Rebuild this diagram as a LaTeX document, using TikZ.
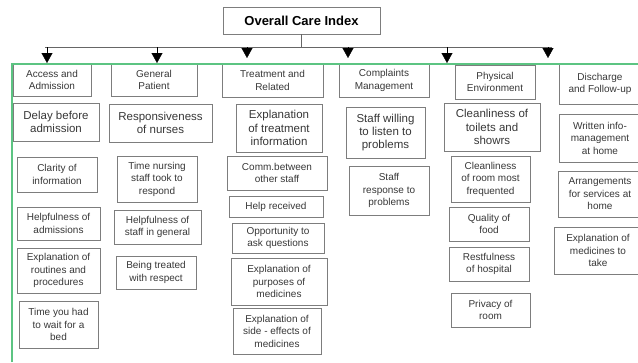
\documentclass[tikz,border=0pt]{standalone}
\usepackage{fontspec}
\setmainfont{Liberation Sans}
\usetikzlibrary{arrows.meta}
\definecolor{boxgray}{RGB}{125,125,125}
\definecolor{txtgray}{RGB}{55,55,55}
\definecolor{linegreen}{RGB}{92,196,130}
\begin{document}
\begin{tikzpicture}[x=1pt,y=-1pt,
		box/.style={draw=boxgray,text=txtgray,align=center,inner sep=0pt,font=\fontsize{10}{12.5}\selectfont},
		bigbox/.style={box,font=\fontsize{11.5}{13.3}\selectfont},
		sz/.style 2 args={minimum width=#1pt,minimum height=#2pt},
		tip/.style={-{Triangle[length=10pt,width=11pt]}}]
		\useasboundingbox (0,0) rectangle (638,362);
		\clip (0,0) rectangle (638,362);
		\node[draw=boxgray,sz={157}{27},font=\bfseries\fontsize{13}{15}\selectfont] (title) at (301.5,20.5) {Overall Care Index};
		\coordinate (bl) at (45,47);
		\coordinate (br) at (552,47);
		\draw[black!60] (title.south) -- (title.south |- bl);
		\draw[black!60] (bl) -- (br);
		\foreach \x/\y [count=\i] in {47/63,157/63,247/58,348/58,447/63,548/58} {
			\coordinate (a\i) at (\x,47);
			\coordinate (t\i) at (\x,\y);
			\draw[tip] (a\i) -- (t\i);
		}
		% column heads
		\node[box,sz={78}{32}] (acc) at (52,80) {Access and\\Admission};
		\node[box,sz={86}{32}] (gen) at (154,80) {General\\Patient};
		\node[box,sz={101}{33}] (trt) at (272.5,80.5) {Treatment and\\Related};
		\node[box,sz={90}{33}] (cmp) at (384,80.5) {Complaints\\Management};
		\node[box,sz={80}{34}] (phy) at (495,82) {Physical\\Environment};
		\node[box,sz={82}{40}] (dis) at (600,84) {Discharge\\and Follow-up};
		% access and admission
		\node[bigbox,sz={86}{38}] (delay) at (56,122) {Delay before\\admission};
		\node[box,sz={80}{35}] (clar) at (57,174.5) {Clarity of\\information};
		\node[box,sz={83}{33}] (helpa) at (58.5,223.5) {Helpfulness of\\admissions};
		\node[box,sz={83}{45}] (rout) at (58.5,270.5) {Explanation of\\routines and\\procedures};
		\node[box,sz={79}{47}] (wait) at (58.5,324.5) {Time you had\\to wait for a\\bed};
		% general patient
		\node[bigbox,sz={103}{38}] (resp) at (160.5,123) {Responsiveness\\of nurses};
		\node[box,sz={80}{46}] (tnurs) at (157,179) {Time nursing\\staff took to\\respond};
		\node[box,sz={87}{34}] (helps) at (157.5,227) {Helpfulness of\\staff in general};
		\node[box,sz={80}{33}] (resc) at (156,272.5) {Being treated\\with respect};
		% treatment and related
		\node[bigbox,sz={86}{48}] (expt) at (279,128) {Explanation\\of treatment\\information};
		\node[box,sz={100}{34}] (comm) at (277,173) {Comm.between\\other staff};
		\node[box,sz={94}{21}] (help) at (276,206.5) {Help received};
		\node[box,sz={92}{30}] (opp) at (278,238) {Opportunity to\\ask questions};
		\node[box,sz={96}{47}] (purp) at (279,281.5) {Explanation of\\purposes of\\medicines};
		\node[box,sz={88}{46}] (side) at (277,331) {Explanation of\\side - effects of\\medicines};
		% complaints management
		\node[bigbox,sz={79}{51}] (listen) at (385.5,132.5) {Staff willing\\to listen to\\problems};
		\node[box,sz={80}{49}] (sresp) at (389,190.5) {Staff\\response to\\problems};
		% physical environment
		\node[bigbox,sz={96}{48}] (toil) at (492,127) {Cleanliness of\\toilets and\\showrs};
		\node[box,sz={79}{46}] (room) at (490.5,179) {Cleanliness\\of room most\\frequented};
		\node[box,sz={80}{34}] (food) at (489,224) {Quality of\\food};
		\node[box,sz={80}{34}] (rest) at (489,264) {Restfulness\\of hospital};
		\node[box,sz={79}{34}] (priv) at (490.5,310) {Privacy of\\room};
		% discharge and follow-up
		\node[box,sz={82}{48}] (writ) at (600,138) {Written info-\\management\\at home};
		\node[box,sz={84}{46}] (arr) at (600,194) {Arrangements\\for services at\\home};
		\node[box,sz={88}{47}] (medt) at (598,250.5) {Explanation of\\medicines to\\take};
		% green frame
		\draw[linegreen,line width=1.2pt] (12,362) -- (12,64) -- (638,64);
	\end{tikzpicture}
\end{document}
